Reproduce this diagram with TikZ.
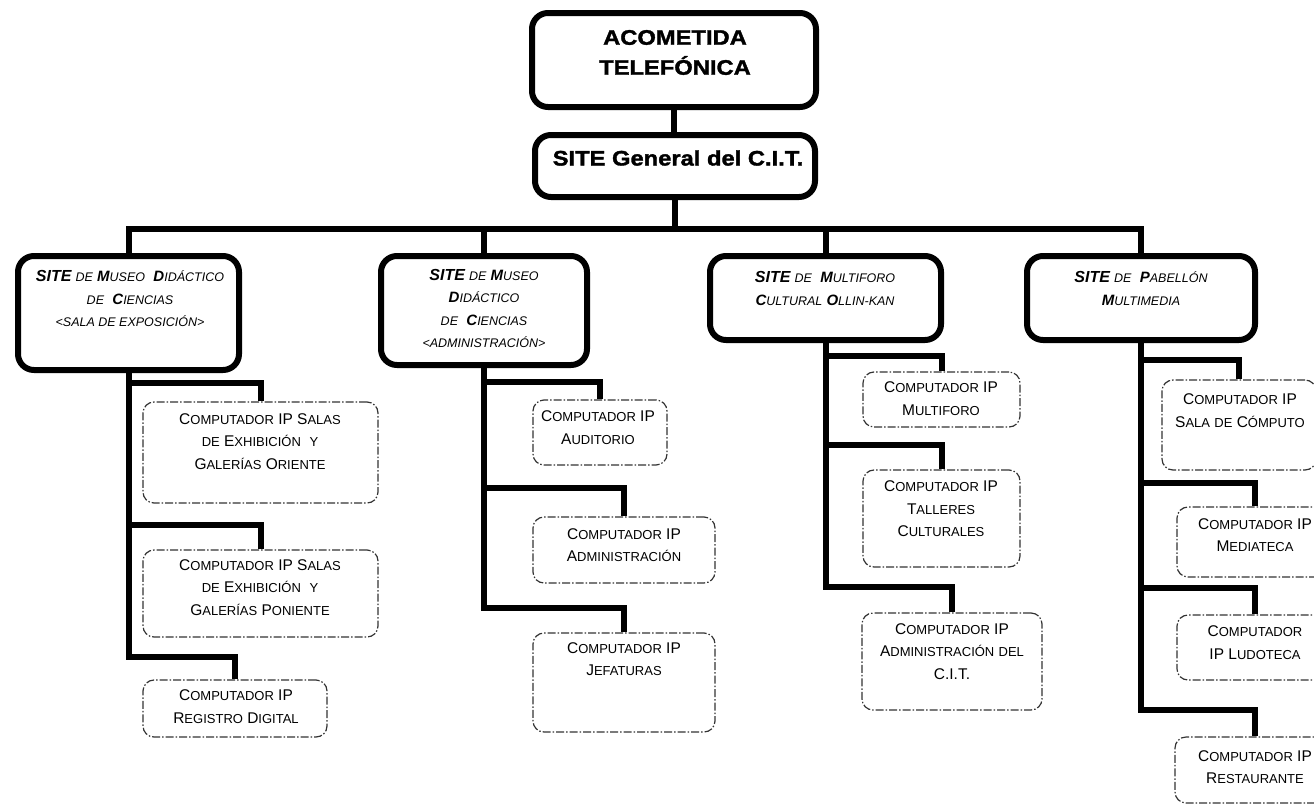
\documentclass[tikz,border=0pt]{standalone}
\usepackage{fontspec}
\setmainfont{Liberation Sans}
\newfontfamily\blackfont{Liberation Sans}[FakeStretch=1.13,FakeBold=1.6]
\newcommand\skap[2]{{\bfseries #1}{\fontsize{12.5}{22.5}\selectfont #2}}
\newcommand\lkap[2]{#1{\fontsize{13}{22.5}\selectfont #2}}
\begin{document}
\begin{tikzpicture}[x=1pt,y=-1pt,
  mainbox/.style={draw, line width=6pt, rounded corners=16pt, inner sep=0pt},
  leafbox/.style={draw=black!80, line width=1.2pt, rounded corners=11pt,
    dash pattern=on 8pt off 2pt on 1.5pt off 2pt, inner sep=0pt},
  conn/.style={line width=6pt},
  toptext/.style={align=center, inner sep=0pt, font=\blackfont\bfseries\fontsize{21}{30}\selectfont},
  sitetext/.style={align=center, inner sep=0pt, font=\itshape\fontsize{15}{22.5}\selectfont},
  leaftext/.style={align=center, inner sep=0pt, font=\fontsize{15.5}{22.5}\selectfont}]
\useasboundingbox (0,0) rectangle (1314,806);
\clip (0,0) rectangle (1314,806);

% main boxes
\node[mainbox, minimum width=284pt, minimum height=94pt] (top) at (674,60) {};
\node[mainbox, minimum width=280pt, minimum height=62pt] (gen) at (675,166) {};
\node[mainbox, minimum width=221pt, minimum height=114pt] (s1) at (128.5,313) {};
\node[mainbox, minimum width=206pt, minimum height=109pt] (s2) at (484,310.5) {};
\node[mainbox, minimum width=231pt, minimum height=84pt] (s3) at (825.5,298) {};
\node[mainbox, minimum width=228pt, minimum height=84pt] (s4) at (1141,298) {};

% leaf boxes
\node[leafbox, minimum width=235pt, minimum height=101pt] (l11) at (260.5,452.5) {};
\node[leafbox, minimum width=235pt, minimum height=87pt] (l12) at (260.5,593.5) {};
\node[leafbox, minimum width=184pt, minimum height=57pt] (l13) at (235,708.5) {};
\node[leafbox, minimum width=134pt, minimum height=65pt] (l21) at (600,432.5) {};
\node[leafbox, minimum width=182pt, minimum height=66pt] (l22) at (624,550) {};
\node[leafbox, minimum width=182pt, minimum height=99pt] (l23) at (624,682.5) {};
\node[leafbox, minimum width=157pt, minimum height=55pt] (l31) at (941.5,399.5) {};
\node[leafbox, minimum width=157pt, minimum height=97pt] (l32) at (941.5,518.5) {};
\node[leafbox, minimum width=180pt, minimum height=97pt] (l33) at (952,661.5) {};
\node[leafbox, minimum width=154pt, minimum height=90pt] (l41) at (1239,425) {};
\node[leafbox, minimum width=156pt, minimum height=70pt] (l42) at (1255,542) {};
\node[leafbox, minimum width=156pt, minimum height=65pt] (l43) at (1255,647.5) {};
\node[leafbox, minimum width=160pt, minimum height=66pt] (l44) at (1255,770) {};

% texts
\node[toptext] (ttop) at (675,52.5) {ACOMETIDA\\TELEFÓNICA};
\node[toptext] (tgen) at (678,158) {SITE General del C.I.T.};
\node[sitetext] (ts1) at (130,298.5) {{\bfseries\fontsize{16}{22.5}\selectfont SITE} \skap{}{DE} \skap{M}{USEO}\ \ \skap{D}{IDÁCTICO}\\\skap{}{DE}\ \ \skap{C}{IENCIAS}\\\skap{}{<SALA DE EXPOSICIÓN>}};
\node[sitetext] (ts2) at (484,308.5) {{\bfseries\fontsize{16}{22.5}\selectfont SITE} \skap{}{DE} \skap{M}{USEO}\\\skap{D}{IDÁCTICO}\\\skap{}{DE}\ \ \skap{C}{IENCIAS}\\\skap{}{<ADMINISTRACIÓN>}};
\node[sitetext] (ts3) at (825,288.5) {{\bfseries\fontsize{16}{22.5}\selectfont SITE} \skap{}{DE}\ \ \skap{M}{ULTIFORO}\\\skap{C}{ULTURAL} \skap{O}{LLIN-KAN}};
\node[sitetext] (ts4) at (1141,288.5) {{\bfseries\fontsize{16}{22.5}\selectfont SITE} \skap{}{DE}\ \ \skap{P}{ABELLÓN}\\\skap{M}{ULTIMEDIA}};

\node[leaftext] (tl11) at (260,441.5) {\lkap{C}{OMPUTADOR} IP \lkap{S}{ALAS}\\\lkap{}{DE} \lkap{E}{XHIBICIÓN}\ \ \lkap{}{Y}\\\lkap{G}{ALERÍAS} \lkap{O}{RIENTE}};
\node[leaftext] (tl12) at (260,587.5) {\lkap{C}{OMPUTADOR} IP \lkap{S}{ALAS}\\\lkap{}{DE} \lkap{E}{XHIBICIÓN}\ \ \lkap{}{Y}\\\lkap{G}{ALERÍAS} \lkap{P}{ONIENTE}};
\node[leaftext] (tl13) at (236,706.5) {\lkap{C}{OMPUTADOR} IP\\\lkap{R}{EGISTRO} \lkap{D}{IGITAL}};
\node[leaftext] (tl21) at (598,427.5) {\lkap{C}{OMPUTADOR} IP\\\lkap{A}{UDITORIO}};
\node[leaftext] (tl22) at (624,545) {\lkap{C}{OMPUTADOR} IP\\\lkap{A}{DMINISTRACIÓN}};
\node[leaftext] (tl23) at (624,659) {\lkap{C}{OMPUTADOR} IP\\\lkap{J}{EFATURAS}};
\node[leaftext] (tl31) at (941,398.5) {\lkap{C}{OMPUTADOR} IP\\\lkap{M}{ULTIFORO}};
\node[leaftext] (tl32) at (941,509) {\lkap{C}{OMPUTADOR} IP\\\lkap{T}{ALLERES}\\\lkap{C}{ULTURALES}};
\node[leaftext] (tl33) at (952,651.5) {\lkap{C}{OMPUTADOR} IP\\\lkap{A}{DMINISTRACIÓN} \lkap{}{DEL}\\C.I.T.};
\node[leaftext] (tl41) at (1240,410.5) {\lkap{C}{OMPUTADOR} IP\\\lkap{S}{ALA} \lkap{}{DE} \lkap{C}{ÓMPUTO}};
\node[leaftext] (tl42) at (1255,535) {\lkap{C}{OMPUTADOR} IP\\\lkap{M}{EDIATECA}};
\node[leaftext] (tl43) at (1255,642.5) {\lkap{C}{OMPUTADOR}\\IP \lkap{L}{UDOTECA}};
\node[leaftext] (tl44) at (1255,767) {\lkap{C}{OMPUTADOR} IP\\\lkap{R}{ESTAURANTE}};

% helper coordinates
\coordinate (bus) at (0,229);
\coordinate (b11) at (0,383); \coordinate (b12) at (0,525); \coordinate (b13) at (0,657);
\coordinate (b21) at (0,382); \coordinate (b22) at (0,488); \coordinate (b23) at (0,608);
\coordinate (b31) at (0,356); \coordinate (b32) at (0,445); \coordinate (b33) at (0,587);
\coordinate (b41) at (0,360); \coordinate (b42) at (0,483); \coordinate (b43) at (0,588); \coordinate (b44) at (0,710);

% connectors
\draw[conn] (top.south) -- (top.south |- gen.north);
\draw[conn] (gen.south) -- (gen.south |- bus);
\draw[conn] (s1.north) -- (s1.north |- bus) -- (s4.north |- bus) -- (s4.north);
\draw[conn] (s2.north) -- (s2.north |- bus);
\draw[conn] (s3.north) -- (s3.north |- bus);

\draw[conn] (s1.south) -- (s1.south |- b13) -| (l13.north);
\draw[conn] (s1.south |- b11) -| (l11.north);
\draw[conn] (s1.south |- b12) -| (l12.north);

\draw[conn] (s2.south) -- (s2.south |- b23) -| (l23.north);
\draw[conn] (s2.south |- b21) -| (l21.north);
\draw[conn] (s2.south |- b22) -| (l22.north);

\draw[conn] (s3.south) -- (s3.south |- b33) -| (l33.north);
\draw[conn] (s3.south |- b31) -| (l31.north);
\draw[conn] (s3.south |- b32) -| (l32.north);

\draw[conn] (s4.south) -- (s4.south |- b44) -| (l44.north);
\draw[conn] (s4.south |- b41) -| (l41.north);
\draw[conn] (s4.south |- b42) -| (l42.north);
\draw[conn] (s4.south |- b43) -| (l43.north);
\end{tikzpicture}
\end{document}
